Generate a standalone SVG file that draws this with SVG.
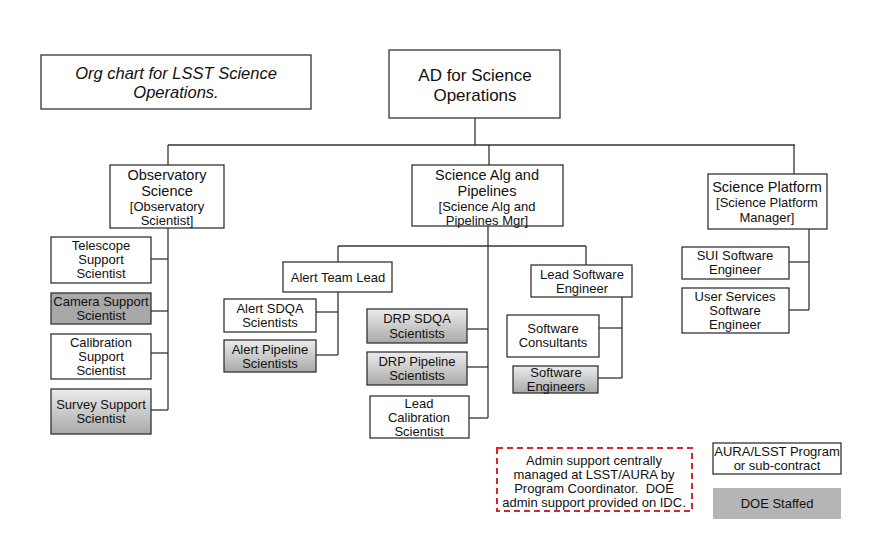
<svg xmlns="http://www.w3.org/2000/svg" width="878" height="557" viewBox="0 0 878 557">
<defs>
<linearGradient id="g" x1="0" y1="0" x2="0" y2="1">
<stop offset="0" stop-color="#ececec"/>
<stop offset="1" stop-color="#a9a9a9"/>
</linearGradient>
<style>
.b{fill:#fff;stroke:#333;stroke-width:1.3}
.gr{fill:url(#g);stroke:#333;stroke-width:1.3}
.dk{fill:#a8a8a8;stroke:#333;stroke-width:1.3}
text{font-family:"Liberation Sans",Arial,sans-serif;fill:#111;text-anchor:middle}
.t{font-size:13px}
.m{font-size:14.5px}
.l{font-size:17px}
.c line{stroke:#333;stroke-width:1.3}
</style>
</defs>
<rect width="878" height="557" fill="#fff"/>
<g class="c" id="connectors">
<line x1="475" y1="118" x2="475" y2="145"/>
<line x1="168" y1="145" x2="795" y2="145"/>
<line x1="168" y1="145" x2="168" y2="165"/>
<line x1="489" y1="145" x2="489" y2="165"/>
<line x1="794" y1="145" x2="794" y2="174"/>
<line x1="168" y1="228" x2="168" y2="410"/>
<line x1="151" y1="259" x2="168" y2="259"/>
<line x1="151" y1="311" x2="168" y2="311"/>
<line x1="151" y1="353" x2="168" y2="353"/>
<line x1="151" y1="410" x2="168" y2="410"/>
<line x1="488" y1="226" x2="488" y2="418"/>
<line x1="338" y1="246" x2="586" y2="246"/>
<line x1="338" y1="246" x2="338" y2="262"/>
<line x1="586" y1="246" x2="586" y2="265"/>
<line x1="338" y1="292" x2="338" y2="355"/>
<line x1="316" y1="312" x2="338" y2="312"/>
<line x1="316" y1="355" x2="338" y2="355"/>
<line x1="467" y1="329" x2="488" y2="329"/>
<line x1="467" y1="367" x2="488" y2="367"/>
<line x1="469" y1="418" x2="488" y2="418"/>
<line x1="622" y1="297" x2="622" y2="378"/>
<line x1="599" y1="328" x2="622" y2="328"/>
<line x1="598" y1="378" x2="622" y2="378"/>
<line x1="809" y1="229" x2="809" y2="310"/>
<line x1="789" y1="262" x2="809" y2="262"/>
<line x1="789" y1="310" x2="809" y2="310"/>
</g>
<g id="title">
<rect class="b" x="41" y="55" width="270" height="54"/>
<text x="176" y="79" font-style="italic" font-size="16.5">Org chart for LSST Science</text>
<text x="176" y="98" font-style="italic" font-size="16.5">Operations.</text>
</g>
<g id="ad">
<rect class="b" x="389" y="50" width="171" height="68"/>
<text class="l" x="475" y="81">AD for Science</text>
<text class="l" x="475" y="101">Operations</text>
</g>
<g id="obs">
<rect class="b" x="110" y="165" width="114" height="63"/>
<text class="m" x="167" y="180">Observatory</text>
<text class="m" x="167" y="196">Science</text>
<text class="t" x="167" y="211">[Observatory</text>
<text class="t" x="167" y="225">Scientist]</text>
</g>
<g id="sap">
<rect class="b" x="412" y="165" width="151" height="61"/>
<text class="m" x="487" y="180">Science Alg and</text>
<text class="m" x="487" y="196">Pipelines</text>
<text class="t" x="487" y="211">[Science Alg and</text>
<text class="t" x="487" y="225">Pipelines Mgr]</text>
</g>
<g id="sp">
<rect class="b" x="708" y="174" width="119" height="55"/>
<text class="m" x="767" y="192">Science Platform</text>
<text class="t" x="767" y="207">[Science Platform</text>
<text class="t" x="767" y="222">Manager]</text>
</g>
<g id="telescope">
<rect class="b" x="51" y="237" width="100" height="46"/>
<text class="t" x="101" y="250">Telescope</text>
<text class="t" x="101" y="264">Support</text>
<text class="t" x="101" y="278">Scientist</text>
</g>
<g id="camera">
<rect class="dk" x="51" y="293" width="100" height="31"/>
<text class="t" x="101" y="306">Camera Support</text>
<text class="t" x="101" y="320">Scientist</text>
</g>
<g id="calibration">
<rect class="b" x="51" y="334" width="100" height="45"/>
<text class="t" x="101" y="347">Calibration</text>
<text class="t" x="101" y="361">Support</text>
<text class="t" x="101" y="375">Scientist</text>
</g>
<g id="survey">
<rect class="gr" x="51" y="389" width="100" height="45"/>
<text class="t" x="101" y="409">Survey Support</text>
<text class="t" x="101" y="423">Scientist</text>
</g>
<g id="alertlead">
<rect class="b" x="283" y="262" width="109" height="30"/>
<text class="t" x="338" y="282">Alert Team Lead</text>
</g>
<g id="alertsdqa">
<rect class="b" x="224" y="299" width="92" height="33"/>
<text class="t" x="270" y="313">Alert SDQA</text>
<text class="t" x="270" y="327">Scientists</text>
</g>
<g id="alertpipe">
<rect class="gr" x="224" y="340" width="92" height="32"/>
<text class="t" x="270" y="354">Alert Pipeline</text>
<text class="t" x="270" y="368">Scientists</text>
</g>
<g id="drpsdqa">
<rect class="gr" x="367" y="309" width="100" height="34"/>
<text class="t" x="417" y="323">DRP SDQA</text>
<text class="t" x="417" y="338">Scientists</text>
</g>
<g id="drppipe">
<rect class="gr" x="367" y="352" width="100" height="33"/>
<text class="t" x="417" y="366">DRP Pipeline</text>
<text class="t" x="417" y="380">Scientists</text>
</g>
<g id="leadcal">
<rect class="b" x="370" y="396" width="99" height="42"/>
<text class="t" x="419" y="408">Lead</text>
<text class="t" x="419" y="422">Calibration</text>
<text class="t" x="419" y="436">Scientist</text>
</g>
<g id="leadsw">
<rect class="b" x="531" y="265" width="101" height="32"/>
<text class="t" x="582" y="279">Lead Software</text>
<text class="t" x="582" y="293">Engineer</text>
</g>
<g id="swcons">
<rect class="b" x="507" y="315" width="92" height="42"/>
<text class="t" x="553" y="333">Software</text>
<text class="t" x="553" y="347">Consultants</text>
</g>
<g id="sweng">
<rect class="gr" x="513" y="366" width="85" height="27"/>
<text class="t" x="556" y="377">Software</text>
<text class="t" x="556" y="391">Engineers</text>
</g>
<g id="sui">
<rect class="b" x="682" y="247" width="107" height="32"/>
<text class="t" x="735" y="260">SUI Software</text>
<text class="t" x="735" y="274">Engineer</text>
</g>
<g id="userserv">
<rect class="b" x="682" y="288" width="107" height="45"/>
<text class="t" x="735" y="301">User Services</text>
<text class="t" x="735" y="315">Software</text>
<text class="t" x="735" y="329">Engineer</text>
</g>
<g id="admin">
<rect x="497" y="448" width="195" height="63" fill="#fff" stroke="#d22630" stroke-width="2" stroke-dasharray="6,4"/>
<text class="t" x="594" y="465">Admin support centrally</text>
<text class="t" x="594" y="479">managed at LSST/AURA by</text>
<text class="t" x="594" y="493" xml:space="preserve">Program Coordinator.  DOE</text>
<text class="t" x="594" y="507">admin support provided on IDC.</text>
</g>
<g id="legend-aura">
<rect class="b" x="713" y="443" width="128" height="31"/>
<text class="t" x="777" y="456">AURA/LSST Program</text>
<text class="t" x="777" y="470">or sub-contract</text>
</g>
<g id="legend-doe">
<rect x="713" y="488" width="128" height="31" fill="#b5b5b5"/>
<text class="t" x="777" y="508">DOE Staffed</text>
</g>
</svg>
